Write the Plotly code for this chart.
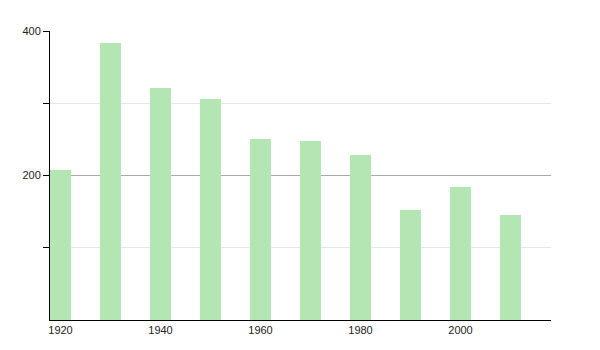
import plotly.graph_objects as go

years = [1920, 1930, 1940, 1950, 1960, 1970, 1980, 1990, 2000, 2010]
values = [207, 383, 321, 306, 250, 248, 228, 152, 184, 145]
x_tick_vals = [1920, 1940, 1960, 1980, 2000]
x_tick_text = ["1920", "1940", "1960", "1980", "2000"]
y_major_ticks = [200, 400]
y_minor_ticks = [100, 300]

fig = go.Figure()
fig.add_trace(go.Bar(
    x=years, y=values, width=4.1,
    marker=dict(color="#b3e6b3", line=dict(width=0)),
    hoverinfo="x+y",
))

fig.update_layout(
    width=600, height=350,
    margin=dict(l=50, r=49, t=31, b=30),
    paper_bgcolor="white", plot_bgcolor="white",
    showlegend=False,
    font=dict(family="Liberation Sans, Arial, sans-serif", size=11, color="#222"),
    bargap=0,
)
fig.update_xaxes(
    range=[1917.9, 2018.1],
    tickvals=x_tick_vals, ticktext=x_tick_text,
    showline=True, linecolor="black", linewidth=1,
    showgrid=False, zeroline=False, ticks="",
    fixedrange=True,
)
fig.update_yaxes(
    range=[0, 400],
    tickvals=y_major_ticks,
    showline=True, linecolor="black", linewidth=1,
    ticks="outside", ticklen=6, tickcolor="black",
    showgrid=True, gridcolor="#aaaaaa", gridwidth=1,
    zeroline=False,
    minor=dict(tickvals=y_minor_ticks, ticks="outside", ticklen=6,
               tickcolor="black", showgrid=True, gridcolor="#e6e6e6"),
    fixedrange=True,
)

fig.write_html("out.html")
